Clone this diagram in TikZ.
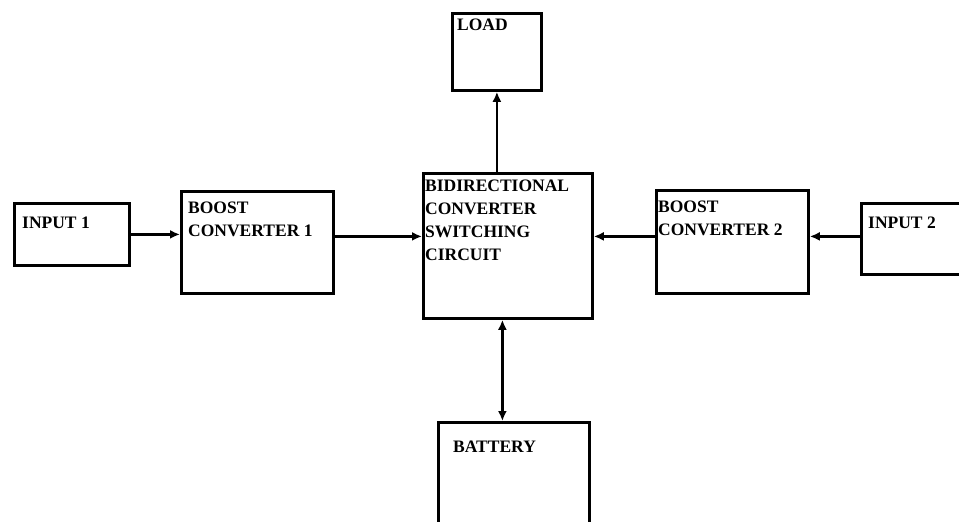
\documentclass[tikz,border=0pt]{standalone}
\usepackage{fontspec}
\setmainfont{Liberation Serif}
\usetikzlibrary{arrows.meta}

\begin{document}
\begin{tikzpicture}[x=1pt, y=-1pt,
        block/.style={rectangle, draw=black, line width=2.8pt, anchor=north west, inner sep=0pt},
        blocktext/.style={anchor=north west, inner sep=0pt, align=left, font=\fontsize{17.5}{23}\selectfont\bfseries},
        link/.style={line width=2.8pt, -{Latex[length=10pt,width=9pt]}},
        duallink/.style={line width=2.8pt, {Latex[length=10pt,width=9pt]}-{Latex[length=10pt,width=9pt]}}
        ]
        \useasboundingbox (0,0) rectangle (959,522);
        \node[block, minimum width=115pt, minimum height=62pt,
              label={[blocktext, xshift=9pt, yshift=-15pt]north west:INPUT 1}]  (IN1) at (13,202)  {};
        \node[block, minimum width=152pt, minimum height=102pt,
              label={[blocktext, xshift=8pt, yshift=-12pt]north west:{BOOST\\CONVERTER 1}}] (BC1) at (180,190) {};
        \node[block, minimum width=169pt, minimum height=145pt,
              label={[blocktext, xshift=3pt, yshift=-8pt]north west:{BIDIRECTIONAL\\CONVERTER\\SWITCHING\\CIRCUIT}}] (BDC) at (422,172) {};
        \node[block, minimum width=152pt, minimum height=103pt,
              label={[blocktext, xshift=3pt, yshift=-12pt]north west:{BOOST\\CONVERTER 2}}] (BC2) at (655,189) {};
        \node[block, minimum width=106pt, minimum height=71pt,
              label={[blocktext, xshift=8pt, yshift=-15pt]north west:INPUT 2}]  (IN2) at (860,202)  {};
        \node[block, minimum width=89pt, minimum height=77pt,
              label={[blocktext, xshift=6pt, yshift=-7pt]north west:LOAD}]     (LOAD) at (451,12)  {};
        \node[block, minimum width=151pt, minimum height=112pt,
              label={[blocktext, xshift=16pt, yshift=-20pt]north west:BATTERY}] (BAT) at (437,421) {};
        % sources into the boost stages
        \draw[link] (IN1.east) -- (IN1.east -| BC1.west);
        \draw[link] ([yshift=2.5pt]IN2.west) coordinate (i2) -- (i2 -| BC2.east);
        % boost stages into the switching circuit
        \draw[link] ([yshift=6pt]BC1.east) coordinate (b1) -- (b1 -| BDC.west);
        \draw[link] ([yshift=5.5pt]BC2.west) coordinate (b2) -- (b2 -| BDC.east);
        % load and battery
        \draw[link] (BDC.north -| LOAD.south) -- (LOAD.south);
        \draw[duallink] ([xshift=-5.5pt]BDC.south) coordinate (bt) -- (bt |- BAT.north);
\end{tikzpicture}
\end{document}
